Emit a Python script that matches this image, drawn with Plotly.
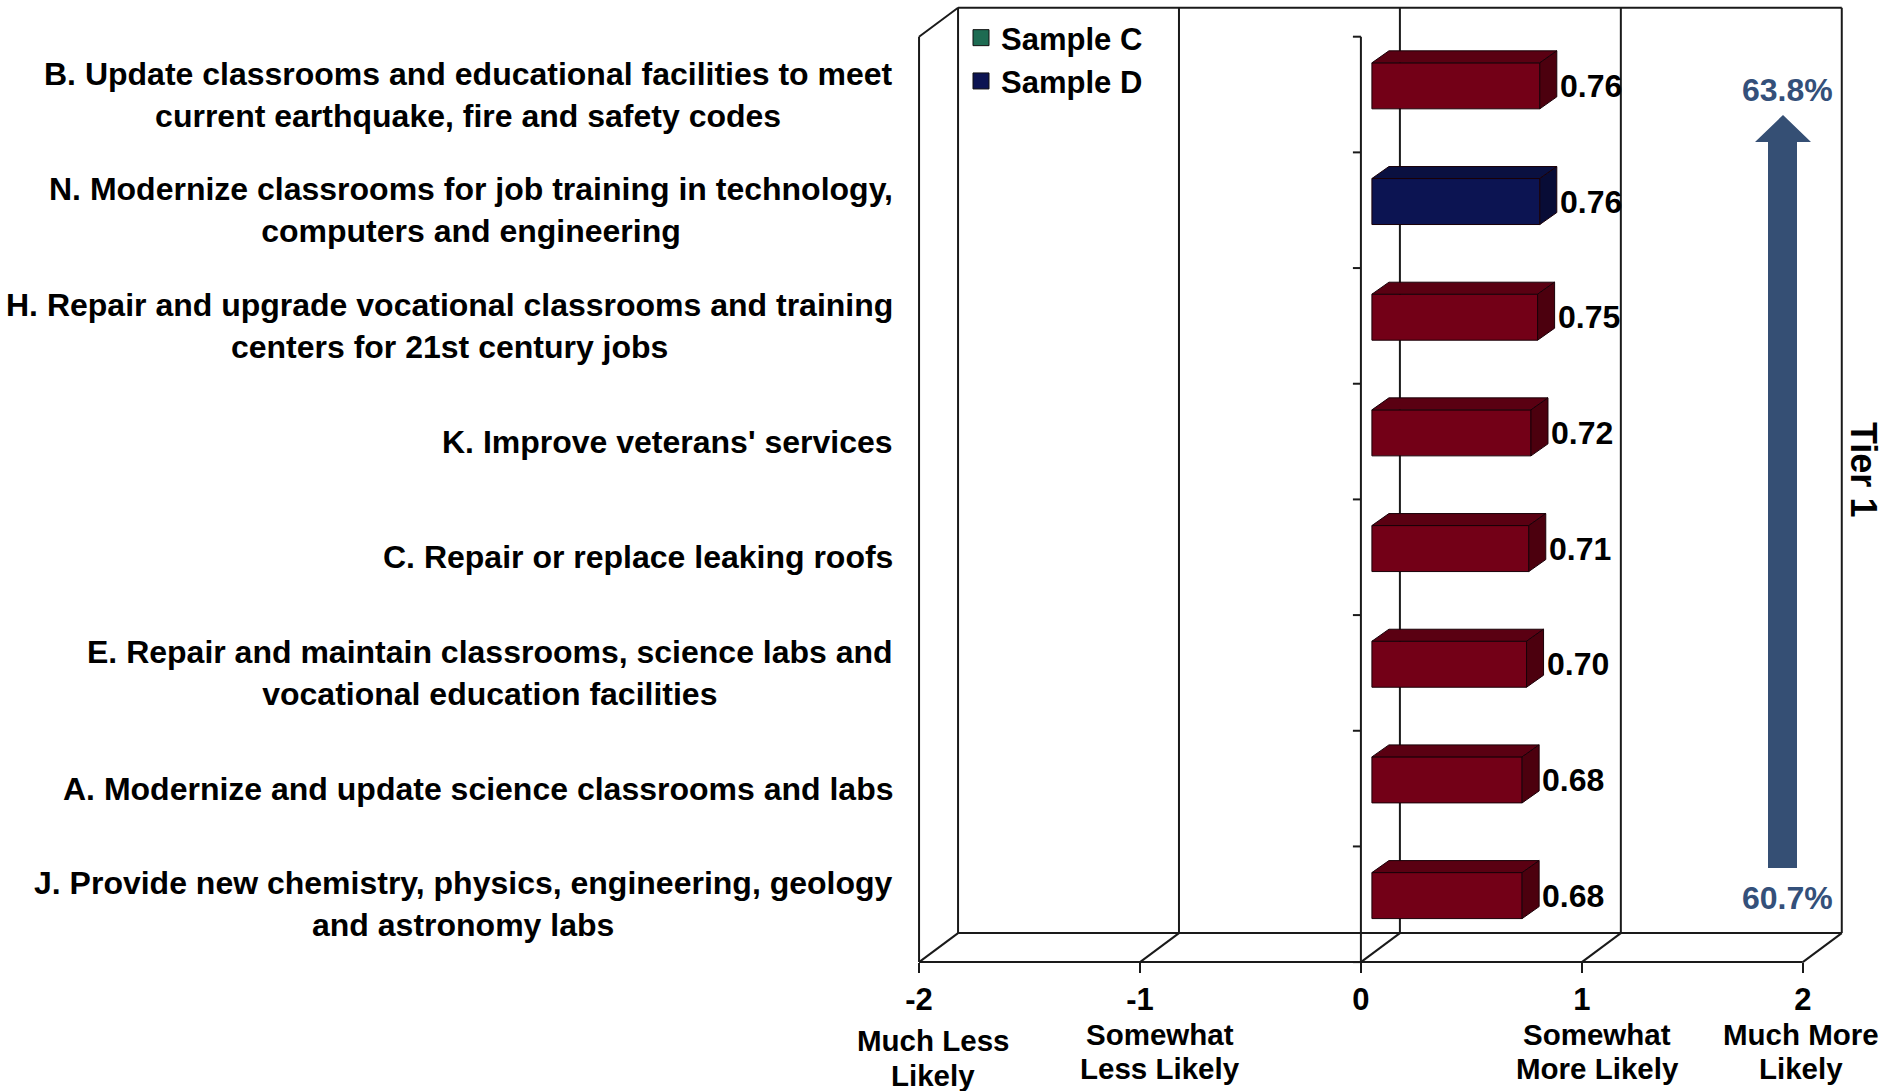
import plotly.graph_objects as go

# ---------------- data ----------------
categories = [
    "B. Update classrooms and educational facilities to meet<br>current earthquake, fire and safety codes",
    "N. Modernize classrooms for job training in technology,<br>computers and engineering",
    "H. Repair and upgrade vocational classrooms and training<br>centers for 21st century jobs",
    "K. Improve veterans' services",
    "C. Repair or replace leaking roofs",
    "E. Repair and maintain classrooms, science labs and<br>vocational education facilities",
    "A. Modernize and update science classrooms and labs",
    "J. Provide new chemistry, physics, engineering, geology<br>and astronomy labs",
]
values = [0.76, 0.76, 0.75, 0.72, 0.71, 0.70, 0.68, 0.68]
bar_series = ["main", "Sample D", "main", "main", "main", "main", "main", "main"]
legend_names = ["Sample C", "Sample D"]

tick_vals = [-2, -1, 0, 1, 2]
tick_text = ["-2", "-1", "0", "1", "2"]
scale_labels = ["Much Less<br>Likely", "Somewhat<br>Less Likely", "",
                "Somewhat<br>More Likely", "Much More<br>Likely"]
tier_top = "63.8%"
tier_bottom = "60.7%"
tier_label = "Tier 1"

# ---------------- style / geometry ----------------
FONT = "Liberation Sans, Arial, sans-serif"
W_FIG, H_FIG = 1883, 1091
L, W = 908, 950
T, H = 2, 974
XR = (-2.05, 2.25)
YR = (7.62, -0.8)          # reversed: first category on top
UX = W / (XR[1] - XR[0])
UY = H / (YR[0] - YR[1])

def px2p(px):
    return (px - L) / W

def py2p(py):
    return 1 - (py - T) / H

DX = 39 / UX      # 3D depth offset of back wall
DY = -29 / UY
BAR_BASE = 11 / UX
BAR_SHIFT = -8.7 / UY
BAR_H = 46 / UY
BDX = 17 / UX
BDY = -12 / UY

COLORS = {
    "main": ("#730017", "#5a0012", "#4c000e"),
    "Sample D": ("#0c1452", "#0a1040", "#080c36"),
}
LEG_COLORS = {"Sample C": "#1d6b52", "Sample D": "#0c1452"}
LINE = "#1a1a1a"

fig = go.Figure()

# legend entries
for name in legend_names:
    fig.add_trace(go.Scatter(
        x=[None], y=[None], mode="markers", name=name,
        marker=dict(symbol="square", size=16, color=LEG_COLORS[name],
                    line=dict(color="#111", width=1)),
        legendgroup=name, showlegend=True, hoverinfo="skip"))

# bars (front faces)
for s in ["main", "Sample D"]:
    idx = [i for i, b in enumerate(bar_series) if b == s]
    fig.add_trace(go.Bar(
        orientation="h",
        x=[values[i] for i in idx],
        y=[i + BAR_SHIFT for i in idx],
        base=BAR_BASE,
        width=BAR_H,
        marker=dict(color=COLORS[s][0], line=dict(color="#1a0008", width=1)),
        showlegend=False,
        legendgroup=s,
        hoverinfo="x",
    ))

shapes = []

def seg(x0, y0, x1, y1, layer="below"):
    shapes.append(dict(type="line", xref="x", yref="y", x0=x0, y0=y0, x1=x1, y1=y1,
                       line=dict(color=LINE, width=2), layer=layer))

# 3D frame
top_f, bot_f = -0.5, 7.5
seg(-2, bot_f, 2, bot_f)                    # front floor edge
seg(-2 + DX, bot_f + DY, 2 + DX, bot_f + DY)  # back floor edge
seg(-2 + DX, top_f + DY, 2 + DX, top_f + DY)  # back top edge
seg(-2 + DX, top_f + DY, -2 + DX, bot_f + DY)  # back left
seg(2 + DX, top_f + DY, 2 + DX, bot_f + DY)    # back right
seg(-2, top_f, -2, bot_f)                    # front left
seg(-2, top_f, -2 + DX, top_f + DY)          # top-left diagonal
for v in tick_vals:
    seg(v, bot_f, v + DX, bot_f + DY)        # floor diagonals
    if -2 < v < 2:
        seg(v + DX, top_f + DY, v + DX, bot_f + DY)  # back wall gridlines
# front value axis at 0 with category ticks
seg(0, top_f, 0, bot_f, layer="above")
for k in range(len(categories) + 1):
    seg(-8 / UX, top_f + k, 0, top_f + k, layer="above")

# bar top and side faces
for i, (v, s) in enumerate(zip(values, bar_series)):
    yc = i + BAR_SHIFT
    yt, yb = yc - BAR_H / 2, yc + BAR_H / 2
    x0, x1 = BAR_BASE, BAR_BASE + v
    top = f"M {x0},{yt} L {x0+BDX},{yt+BDY} L {x1+BDX},{yt+BDY} L {x1},{yt} Z"
    side = f"M {x1},{yt} L {x1+BDX},{yt+BDY} L {x1+BDX},{yb+BDY} L {x1},{yb} Z"
    shapes.append(dict(type="path", xref="x", yref="y", path=top, fillcolor=COLORS[s][1],
                       line=dict(color="#1a0008", width=1), layer="above"))
    shapes.append(dict(type="path", xref="x", yref="y", path=side, fillcolor=COLORS[s][2],
                       line=dict(color="#1a0008", width=1), layer="above"))

# tier arrow
pts = [(1768, 868), (1768, 142), (1755, 142), (1783, 115), (1811, 142), (1797, 142), (1797, 868)]
path = "M " + " L ".join(f"{px2p(a)},{py2p(b)}" for a, b in pts) + " Z"
shapes.append(dict(type="path", xref="paper", yref="paper", path=path,
                   fillcolor="#354f74", line=dict(width=0), layer="above"))

annotations = []
# category labels
for i, c in enumerate(categories):
    annotations.append(dict(x=-2, y=i, xref="x", yref="y", text=c, showarrow=False,
                            xanchor="right", yanchor="middle", align="center", xshift=-24,
                            font=dict(family=FONT, size=32, color="#000", weight="bold")))
# value labels
for i, v in enumerate(values):
    annotations.append(dict(x=BAR_BASE + v + BDX, y=i + BAR_SHIFT, xref="x", yref="y",
                            text=f"{v:.2f}", showarrow=False, xanchor="left", yanchor="middle",
                            xshift=1, font=dict(family=FONT, size=32, color="#000", weight="bold")))
# scale descriptions
desc_x = [933, 1160, 0, 1597, 1801]
desc_y = [(1040, 1075), (1034, 1068), (0, 0), (1034, 1068), (1034, 1068)]
for lab, xp, yp in zip(scale_labels, desc_x, desc_y):
    if not lab:
        continue
    for line, ypx in zip(lab.split("<br>"), yp):
        annotations.append(dict(x=px2p(xp), y=py2p(ypx), xref="paper", yref="paper", text=line,
                                showarrow=False, xanchor="center", yanchor="middle",
                                font=dict(family=FONT, size=29.5, color="#000", weight="bold")))
# tier texts
for txt, ypx in [(tier_top, 90), (tier_bottom, 898)]:
    annotations.append(dict(x=px2p(1787), y=py2p(ypx), xref="paper", yref="paper", text=txt,
                            showarrow=False, xanchor="center", yanchor="middle",
                            font=dict(family=FONT, size=32, color="#34507a", weight="bold")))
annotations.append(dict(x=px2p(1864), y=py2p(469), xref="paper", yref="paper", text=tier_label,
                        showarrow=False, xanchor="center", yanchor="middle", textangle=90,
                        font=dict(family=FONT, size=36, color="#000", weight="bold")))

fig.update_layout(
    width=W_FIG, height=H_FIG,
    margin=dict(l=L, r=W_FIG - L - W, t=T, b=H_FIG - T - H, pad=0),
    plot_bgcolor="white", paper_bgcolor="white",
    barmode="overlay",
    shapes=shapes, annotations=annotations,
    showlegend=True,
    legend=dict(x=px2p(961), y=py2p(11), xanchor="left", yanchor="top",
                bgcolor="rgba(0,0,0,0)", borderwidth=0, tracegroupgap=0,
                font=dict(family=FONT, size=31, color="#000", weight="bold")),
    xaxis=dict(range=list(XR), tickvals=tick_vals, ticktext=tick_text,
               showgrid=False, zeroline=False, showline=False,
               ticks="outside", ticklen=10, tickwidth=2, tickcolor=LINE,
               anchor="free", position=(YR[0] - 7.5) / (YR[0] - YR[1]),
               ticklabelstandoff=0,
               tickfont=dict(family=FONT, size=31, color="#000", weight="bold")),
    yaxis=dict(range=list(YR), visible=False, showgrid=False, zeroline=False),
)

fig.write_html("out.html", config={"displayModeBar": False},
               post_script="document.body.style.margin='0';")
